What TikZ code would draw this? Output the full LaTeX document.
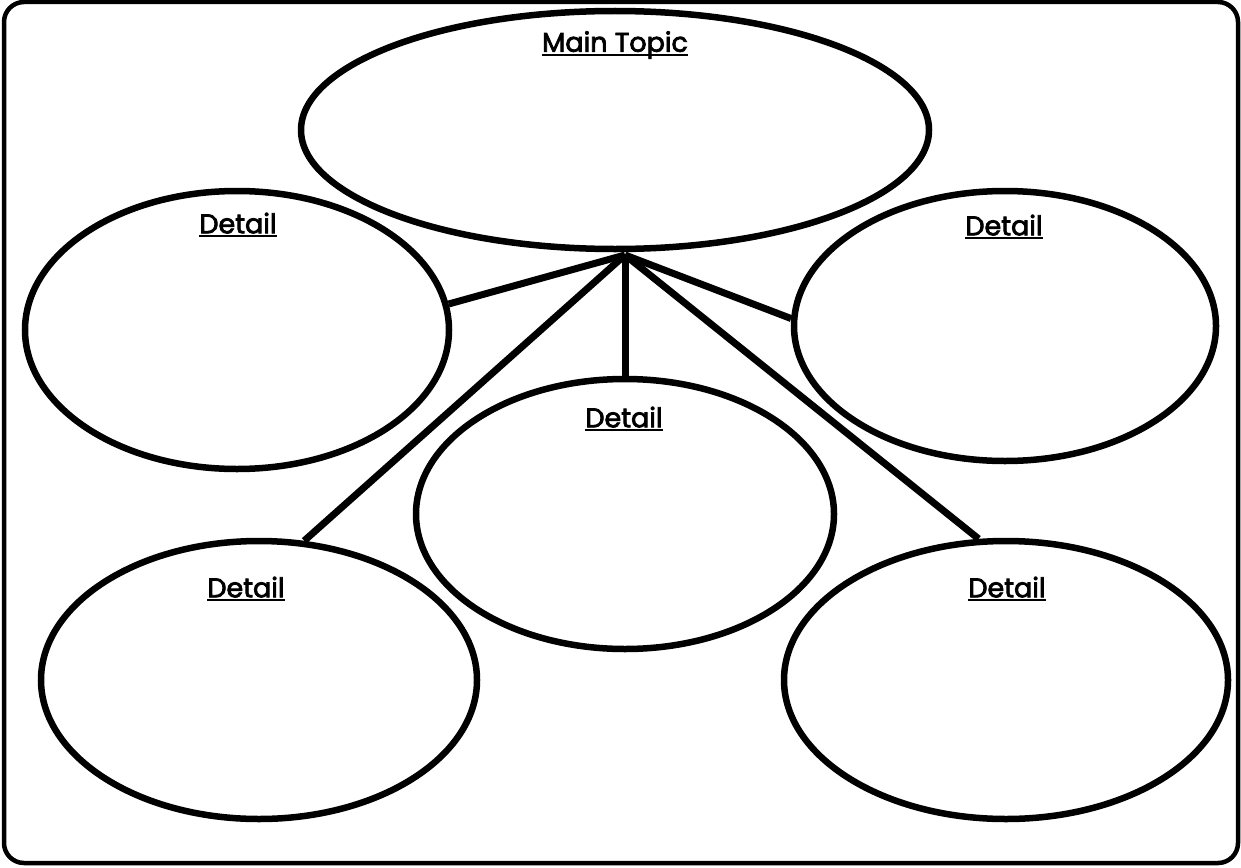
\documentclass[tikz,border=0pt]{standalone}
\usepackage{fontspec}
\setmainfont{Poppins}[FakeBold=2.8]
\usetikzlibrary{shapes.geometric}
\newcommand{\ulbox}[1]{\setbox0\hbox{#1}\leavevmode\rlap{\rule[-4pt]{\wd0}{2.2pt}}\box0}
\begin{document}
\begin{tikzpicture}[x=1pt,y=-1pt,
  bubble/.style={draw=black, line width=6.5pt, ellipse, inner sep=0pt},
  ttl/.style={font=\fontsize{27}{30}\selectfont, text=black},
  link/.style={line width=7pt, black}]
\useasboundingbox (0,0) rectangle (1241,867);
\draw[line width=4.5pt, rounded corners=20pt] (4,2) rectangle (1238,863);
\node[bubble, minimum width=628pt, minimum height=238pt] (main) at (615,130) {};
\node[bubble, minimum width=424pt, minimum height=278pt] (left) at (237,330) {};
\node[bubble, minimum width=422pt, minimum height=270pt] (right) at (1005,326) {};
\node[bubble, minimum width=418pt, minimum height=270pt] (mid) at (625,514) {};
\node[bubble, minimum width=436pt, minimum height=278pt] (bl) at (259,680) {};
\node[bubble, minimum width=444pt, minimum height=278pt] (br) at (1006,680) {};
\node[ttl] (tmain) at (615,45) {\ulbox{Main Topic}};
\node[ttl] (tleft) at (238,225) {\ulbox{Detail}};
\node[ttl] (tright) at (1004,227) {\ulbox{Detail}};
\node[ttl] (tmid) at (624,419) {\ulbox{Detail}};
\node[ttl] (tbl) at (246,589) {\ulbox{Detail}};
\node[ttl] (tbr) at (1007,589) {\ulbox{Detail}};
\coordinate (hub) at (625,255);
\draw[link] (hub) -- (left.7);
\draw[link] (hub) -- (right.178);
\draw[link] (hub) -- (mid.north);
\draw[link] (hub) -- (bl.72);
\draw[link] (hub) -- (br.101);
\end{tikzpicture}
\end{document}
